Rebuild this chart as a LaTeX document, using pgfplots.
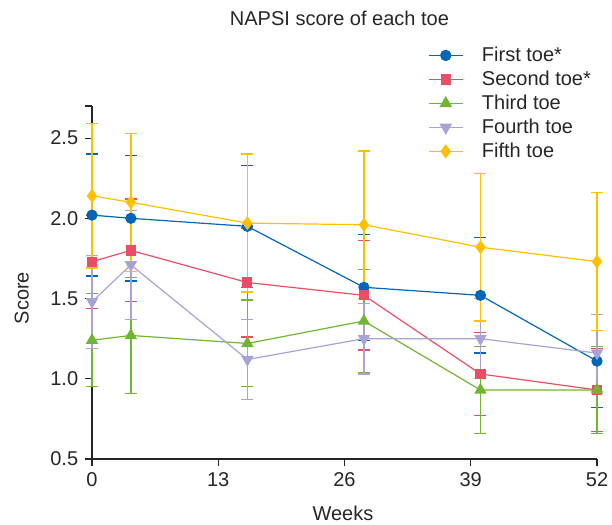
\documentclass[border=0pt]{standalone}
\usepackage{fontspec}
\setmainfont{Liberation Sans}
\usepackage{pgfplots}
\pgfplotsset{compat=1.18}

\definecolor{toeone}{RGB}{0,102,187}
\definecolor{toetwo}{RGB}{233,78,102}
\definecolor{toethree}{RGB}{112,182,48}
\definecolor{toefour}{RGB}{167,163,212}
\definecolor{toefive}{RGB}{255,192,0}

\pgfplotsset{
    toeerr/.style={
        error bars/.cd, y dir=both, y explicit,
        error bar style={line width=1.5pt, solid},
        error mark options={rotate=90, line width=1.3pt, mark size=6pt, solid},
    },
}

\begin{document}
\fontsize{20}{24}\selectfont
\begin{tikzpicture}
\useasboundingbox (-92pt,-65pt) rectangle (520pt,459pt);
\begin{axis}[
    scale only axis,
    width=505pt, height=353pt,
    xmin=0, xmax=52, ymin=0.5, ymax=2.7,
    axis lines*=left,
    axis line style={line width=1.1pt, black!85},
    tick align=outside,
    major tick length=7pt,
    tick style={line width=1.1pt, black!85},
    xtick={0,13,26,39,52},
    ytick={0.5,1.0,1.5,2.0,2.5},
    extra y ticks={2.7}, extra y tick labels={},
    yticklabel style={/pgf/number format/.cd, fixed, fixed zerofill, precision=1},
    /pgf/number format/assume math mode=true,
    ticklabel style={font=\fontsize{20}{24}\selectfont, text=black!85},
    xlabel={Weeks}, ylabel={Score},
    every axis x label/.style={at={(axis description cs:0.497,-0.153)}, anchor=center, font=\fontsize{20}{24}\selectfont, text=black!85},
    every axis y label/.style={at={(axis description cs:-0.139,0.456)}, rotate=90, anchor=center, font=\fontsize{20}{24}\selectfont, text=black!85},
    legend style={draw=none, fill=none, at={(0.659,1.180)}, anchor=north west,
        font=\fontsize{20}{23}\selectfont, text=black!85, row sep=2.5pt},
    legend cell align=left,
    legend image code/.code={
        \draw[line width=1.4pt, mark repeat=2, mark phase=2] plot coordinates {(0cm,0cm) (0.6cm,0cm) (1.2cm,0cm)};
        \path (1.78cm,0cm);
    },
    every axis plot/.append style={line width=1.2pt},
    clip=false,
]
% First toe
\addplot[color=toeone, mark=*, mark size=5pt, toeerr] coordinates {
    (0,2.02) +- (0,0.38)
    (4,2.00) +- (0,0.39)
    (16,1.95) +- (0,0.38)
    (28,1.57) +- (0,0.33)
    (40,1.52) +- (0,0.36)
    (52,1.11) +- (0,0.29)
};
\addlegendentry{First toe*}

% Second toe
\addplot[color=toetwo, mark=square*, mark size=4.5pt, toeerr] coordinates {
    (0,1.73) +- (0,0.29)
    (4,1.80) +- (0,0.32)
    (16,1.60) +- (0,0.34)
    (28,1.52) +- (0,0.34)
    (40,1.03) +- (0,0.26)
    (52,0.93) +- (0,0.26)
};
\addlegendentry{Second toe*}

% Third toe
\addplot[color=toethree, mark=triangle*, mark size=6pt, toeerr] coordinates {
    (0,1.24) +- (0,0.29)
    (4,1.27) +- (0,0.36)
    (16,1.22) +- (0,0.27)
    (28,1.36) +- (0,0.32)
    (40,0.93) +- (0,0.27)
    (52,0.93) +- (0,0.27)
};
\addlegendentry{Third toe}

% Fourth toe
\addplot[color=toefour, mark=triangle*, mark size=6pt, mark options={rotate=180}, toeerr] coordinates {
    (0,1.48) +- (0,0.29)
    (4,1.71) +- (0,0.34)
    (16,1.12) +- (0,0.25)
    (28,1.25) +- (0,0.22)
    (40,1.25) +- (0,0.25)
    (52,1.16) +- (0,0.24)
};
\addlegendentry{Fourth toe}

% Fifth toe
\addplot[color=toefive, mark=diamond*, mark size=6pt, toeerr] coordinates {
    (0,2.14) +- (0,0.45)
    (4,2.10) +- (0,0.43)
    (16,1.97) +- (0,0.43)
    (28,1.96) +- (0,0.46)
    (40,1.82) +- (0,0.46)
    (52,1.73) +- (0,0.43)
};
\addlegendentry{Fifth toe}

\node[font=\fontsize{20}{24}\selectfont, text=black!85] at (rel axis cs:0.49,1.249) {NAPSI score of each toe};
\end{axis}
\end{tikzpicture}
\end{document}
